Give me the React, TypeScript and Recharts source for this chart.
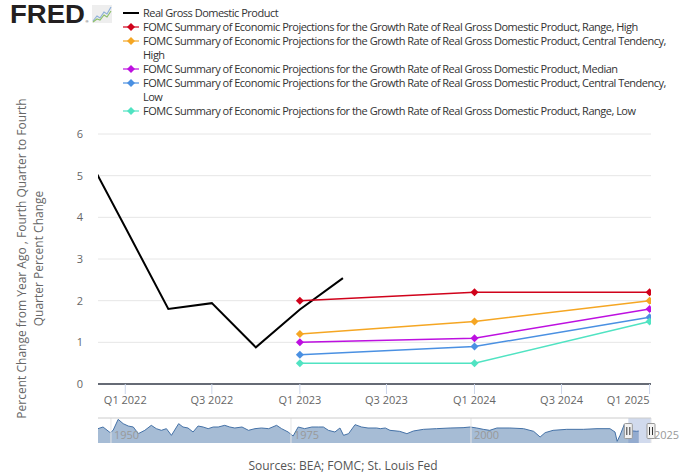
import React from 'react';
import {
  ComposedChart,
  Line,
  XAxis,
  YAxis,
  CartesianGrid,
  ReferenceLine,
  AreaChart,
  Area,
  ReferenceArea,
  ReferenceDot,
} from 'recharts';

// ---------- data ----------
const gdpDates = ['2021-10-01', '2022-01-01', '2022-04-01', '2022-07-01', '2022-10-01', '2023-01-01', '2023-04-01'];
const gdpValues = [5.75, 3.76, 1.8, 1.94, 0.88, 1.79, 2.54];

const projDates = ['2023-01-01', '2024-01-01', '2025-01-01'];
const rangeHigh = [2.0, 2.2, 2.2];
const ctHigh = [1.2, 1.5, 2.0];
const medianVals = [1.0, 1.1, 1.8];
const ctLow = [0.7, 0.9, 1.6];
const rangeLow = [0.5, 0.5, 1.5];

const xTickDates = ['2022-01-01', '2022-07-01', '2023-01-01', '2023-07-01', '2024-01-01', '2024-07-01', '2025-01-01'];
const xTickLabels = ['Q1 2022', 'Q3 2022', 'Q1 2023', 'Q3 2023', 'Q1 2024', 'Q3 2024', 'Q1 2025'];
const yTicks = [0, 1, 2, 3, 4, 5, 6];

const seriesNames = [
  'Real Gross Domestic Product',
  'FOMC Summary of Economic Projections for the Growth Rate of Real Gross Domestic Product, Range, High',
  'FOMC Summary of Economic Projections for the Growth Rate of Real Gross Domestic Product, Central Tendency, High',
  'FOMC Summary of Economic Projections for the Growth Rate of Real Gross Domestic Product, Median',
  'FOMC Summary of Economic Projections for the Growth Rate of Real Gross Domestic Product, Central Tendency, Low',
  'FOMC Summary of Economic Projections for the Growth Rate of Real Gross Domestic Product, Range, Low',
];
const seriesKeys = ['gdp', 'rh', 'cth', 'med', 'ctl', 'rl'];
const seriesColors = ['#000000', '#d0021b', '#f5a623', '#bd10e0', '#4a90e2', '#50e3c2'];

// navigator (full history)
const navYears = [
  1948.2, 1948.9, 1949.9, 1950.3, 1951.0, 1951.7, 1952.4, 1953.1, 1953.8, 1954.7, 1955.6, 1956.3, 1957.0, 1957.7,
  1958.4, 1959.4, 1960.0, 1960.7, 1961.4, 1962.1, 1962.8, 1963.5, 1964.2, 1964.9, 1965.8, 1966.5, 1967.2, 1968.2,
  1969.1, 1970.0, 1970.9, 1971.9, 1973.0, 1973.7, 1974.6, 1975.3, 1976.0, 1976.9, 1977.9, 1978.8, 1979.5, 1980.2,
  1981.1, 1981.8, 1982.3, 1983.0, 1983.9, 1984.8, 1985.7, 1986.9, 1987.4, 1988.1, 1988.75, 1990.1, 1991.1, 1992.0,
  1993.4, 1995.2, 1997.1, 1998.9, 1999.9, 2000.8, 2001.7, 2002.6, 2003.6, 2005.4, 2007.3, 2008.7, 2009.6, 2010.3,
  2011.4, 2013.3, 2015.6, 2017.5, 2019.3, 2020.0, 2020.3, 2020.7, 2021.1, 2021.3, 2021.6, 2023.0, 2023.3,
];
const navValues = [
  3.76, 5.36, -0.08, 2.16, 12.7, 8.56, 6.3, 5.36, -1.04, 2.16, 6.96, 3.76, 2.16, 3.76,
  -2.64, 8.56, 5.36, 4.4, 0.56, 6.32, 5.36, 3.76, 5.36, 5.36, 6.96, 5.36, 4.4, 5.36,
  2.16, 3.76, 4.4, 3.76, 6.96, 3.76, 0.56, -3.28, 5.36, 3.76, 5.36, 5.36, 5.36, 2.16,
  0.56, 4.4, -2.64, -1.04, 7.6, 5.36, 4.4, 4.4, 3.76, 4.4, 2.16, 1.2, -1.04, 1.52,
  3.12, 3.76, 4.4, 4.72, 5.36, 4.4, 3.12, 2.16, 4.4, 4.4, 3.76, 1.2, -4.24, -0.08,
  2.16, 3.12, 3.12, 3.76, 3.76, 0.56, -8.4, -2.64, 4.4, 8.0, 2.16, 1.2, 1.5,
];
const navTickYears = [1950, 1975, 2000, 2025];
const navSelected = [2021.85, 2025.0];

// ---------- build tables ----------
const toT = (d: string) => Date.parse(d);
const rowMap = new Map<number, any>();
const getRow = (t: number) => {
  if (!rowMap.has(t)) rowMap.set(t, { t });
  return rowMap.get(t);
};
gdpDates.forEach((d, i) => (getRow(toT(d)).gdp = gdpValues[i]));
const projSeries: [string, number[]][] = [
  ['rh', rangeHigh],
  ['cth', ctHigh],
  ['med', medianVals],
  ['ctl', ctLow],
  ['rl', rangeLow],
];
projSeries.forEach(([k, vals]) => projDates.forEach((d, i) => (getRow(toT(d))[k] = vals[i])));
const mainData = Array.from(rowMap.values()).sort((a, b) => a.t - b.t);
const xTicks = xTickDates.map(toT);
const xDomain = [Date.UTC(2021, 10, 5), Date.UTC(2025, 0, 4)];

const navData = navYears.map((y, i) => ({ year: y, v: navValues[i] }));

const FONT = '"Open Sans", "DejaVu Sans", sans-serif';

// ---------- renderers ----------
const makeDiamond = (color: string) => (props: any) => {
  const { cx, cy } = props;
  if (cx == null || cy == null || isNaN(cx) || isNaN(cy)) return <g key={`e-${props.index}`} />;
  const r = 4;
  return (
    <path
      key={`d-${props.index}-${cx}`}
      d={`M${cx} ${cy - r}L${cx + r} ${cy}L${cx} ${cy + r}L${cx - r} ${cy}Z`}
      fill={color}
    />
  );
};

const XTick = (props: any) => {
  const { x, y, payload, index } = props;
  const i = xTicks.indexOf(payload.value);
  const last = i === xTicks.length - 1;
  return (
    <text x={x} y={y} dy="0.71em" textAnchor={last ? 'end' : 'middle'} fill="#666666" fontSize={11} fontFamily={FONT}>
      {xTickLabels[i >= 0 ? i : index]}
    </text>
  );
};

const YTick = (props: any) => {
  const { x, y, payload } = props;
  return (
    <text x={x} y={y} dy="0.355em" textAnchor="end" fill="#666666" fontSize={11} fontFamily={FONT}>
      {payload.value}
    </text>
  );
};

const makeNavLabel = (text: string) => (props: any) => {
  const vb = props.viewBox || {};
  if (vb.x == null) return null;
  return (
    <text x={vb.x + 3} y={vb.y + vb.height - 4} textAnchor="start" fill="#999999" fontSize={11} fontFamily={FONT}>
      {text}
    </text>
  );
};

const Handle = (props: any) => {
  const { cx, cy } = props;
  if (cx == null || cy == null) return <g />;
  return (
    <g>
      <rect x={cx - 4} y={cy - 7.5} width={8} height={15} rx={1} fill="#f2f2f2" stroke="#999999" strokeWidth={1} />
      <line x1={cx - 1.5} y1={cy - 4} x2={cx - 1.5} y2={cy + 4} stroke="#333333" strokeWidth={1} />
      <line x1={cx + 1.5} y1={cy - 4} x2={cx + 1.5} y2={cy + 4} stroke="#333333" strokeWidth={1} />
    </g>
  );
};

const LegendMarker = ({ color, diamond }: { color: string; diamond: boolean }) => (
  <svg width={16} height={14} style={{ flex: '0 0 auto', display: 'block' }}>
    <line x1={0} y1={7} x2={16} y2={7} stroke={color} strokeWidth={2} opacity={diamond ? 0.6 : 1} />
    {diamond && <path d="M8 3L12 7L8 11L4 7Z" fill={color} />}
  </svg>
);

export default function App() {
  return (
    <div
      style={{
        position: 'absolute',
        left: 0,
        top: 0,
        width: 681,
        height: 474,
        background: '#ffffff',
        overflow: 'hidden',
        fontFamily: FONT,
      }}
    >
      {/* main chart */}
      <div style={{ position: 'absolute', left: 0, top: 0 }}>
        <ComposedChart width={681} height={474} data={mainData} margin={{ top: 134, right: 30, left: 68, bottom: 60 }}>
          <CartesianGrid horizontal vertical={false} stroke="#e6e6e6" />
          <XAxis
            dataKey="t"
            type="number"
            domain={xDomain}
            allowDataOverflow
            ticks={xTicks}
            interval={0}
            tick={<XTick />}
            tickSize={10}
            tickMargin={2}
            tickLine={{ stroke: '#ccd6eb' }}
            axisLine={{ stroke: '#ccd6eb' }}
            height={30}
          />
          <YAxis
            type="number"
            domain={[0, 6]}
            ticks={yTicks}
            interval={0}
            tick={<YTick />}
            tickSize={0}
            tickMargin={15}
            tickLine={false}
            axisLine={false}
            width={30}
          />
          <ReferenceLine y={0} stroke="#000000" strokeWidth={2} />
          <Line
            dataKey="gdp"
            stroke={seriesColors[0]}
            strokeWidth={2}
            dot={false}
            activeDot={false}
            isAnimationActive={false}
            connectNulls
          />
          {seriesKeys.slice(1).map((k, i) => (
            <Line
              key={k}
              dataKey={k}
              stroke={seriesColors[i + 1]}
              strokeWidth={1.5}
              dot={makeDiamond(seriesColors[i + 1])}
              activeDot={false}
              isAnimationActive={false}
              connectNulls
            />
          ))}
        </ComposedChart>
      </div>

      {/* navigator */}
      <div style={{ position: 'absolute', left: 0, top: 0 }}>
        <AreaChart width={681} height={474} data={navData} margin={{ top: 418, right: 30, left: 98, bottom: 31 }}>
          <XAxis
            dataKey="year"
            type="number"
            domain={[1948.2, 2025.0]}
            allowDataOverflow
            ticks={navTickYears}
            hide
          />
          <YAxis type="number" domain={[-10, 14]} allowDataOverflow hide />
          <Area
            dataKey="v"
            type="linear"
            stroke="#4572a7"
            strokeWidth={1}
            fill="#4572a7"
            fillOpacity={0.48}
            baseValue="dataMin"
            dot={false}
            activeDot={false}
            isAnimationActive={false}
          />
          {navTickYears.map((yr) => (
            <ReferenceLine
              key={yr}
              x={yr}
              stroke="#e6e6e6"
              strokeWidth={1}
              ifOverflow="visible"
              label={{ content: makeNavLabel(String(yr)) }}
            />
          ))}
          <ReferenceLine y={14} stroke="#cccccc" strokeWidth={1} />
          <ReferenceArea
            x1={navSelected[0]}
            x2={navSelected[1]}
            y1={-10}
            y2={14}
            fill="#6685c2"
            fillOpacity={0.3}
            stroke="none"
          />
          <ReferenceDot x={navSelected[0]} y={1.5} shape={Handle} />
          <ReferenceDot x={navSelected[1]} y={1.5} shape={Handle} />
        </AreaChart>
      </div>

      {/* overlay: logo, axis title, sources */}
      <svg width={681} height={474} style={{ position: 'absolute', left: 0, top: 0, pointerEvents: 'none' }}>
        <text
          x={10}
          y={23}
          fontSize={25}
          fontWeight={900}
          fontFamily='"Liberation Sans", Arial, sans-serif'
          fill="#231f20"
          textLength={75}
          lengthAdjust="spacingAndGlyphs"
        >
          FRED
        </text>
        <text x={85.5} y={23} fontSize={4} fill="#231f20" fontFamily='"Liberation Sans", Arial, sans-serif'>
          ®
        </text>
        <rect x={92} y={5} width={20} height={18} fill="#eeeeee" />
        <polyline points="93,21 97,16 100,18 104,12 107,14 111,7" fill="none" stroke="#8fb0d8" strokeWidth={1.2} />
        <polyline points="93,22 97,19 100,20 104,15 107,17 111,11" fill="none" stroke="#8cbf6a" strokeWidth={1.2} />

        <text
          transform="translate(21,258.5) rotate(-90)"
          textAnchor="middle"
          dominantBaseline="central"
          fontSize={12}
          fill="#666666"
          fontFamily={FONT}
        >
          Percent Change from Year Ago , Fourth Quarter to Fourth
        </text>
        <text
          transform="translate(38,258.5) rotate(-90)"
          textAnchor="middle"
          dominantBaseline="central"
          fontSize={12}
          fill="#666666"
          fontFamily={FONT}
        >
          Quarter Percent Change
        </text>

        <text x={343} y={470} textAnchor="middle" fontSize={12} fill="#555555" fontFamily={FONT}>
          Sources: BEA; FOMC; St. Louis Fed
        </text>
      </svg>

      {/* legend */}
      <div style={{ position: 'absolute', left: 123, top: 6, width: 560 }}>
        {seriesNames.map((name, i) => (
          <div key={name} style={{ display: 'flex', alignItems: 'flex-start' }}>
            <LegendMarker color={seriesColors[i]} diamond={i > 0} />
            <div
              style={{
                marginLeft: 4,
                width: 536,
                fontSize: 11,
                lineHeight: '14px',
                letterSpacing: '-0.5px',
                color: '#333333',
                fontFamily: FONT,
              }}
            >
              {name}
            </div>
          </div>
        ))}
      </div>
    </div>
  );
}
